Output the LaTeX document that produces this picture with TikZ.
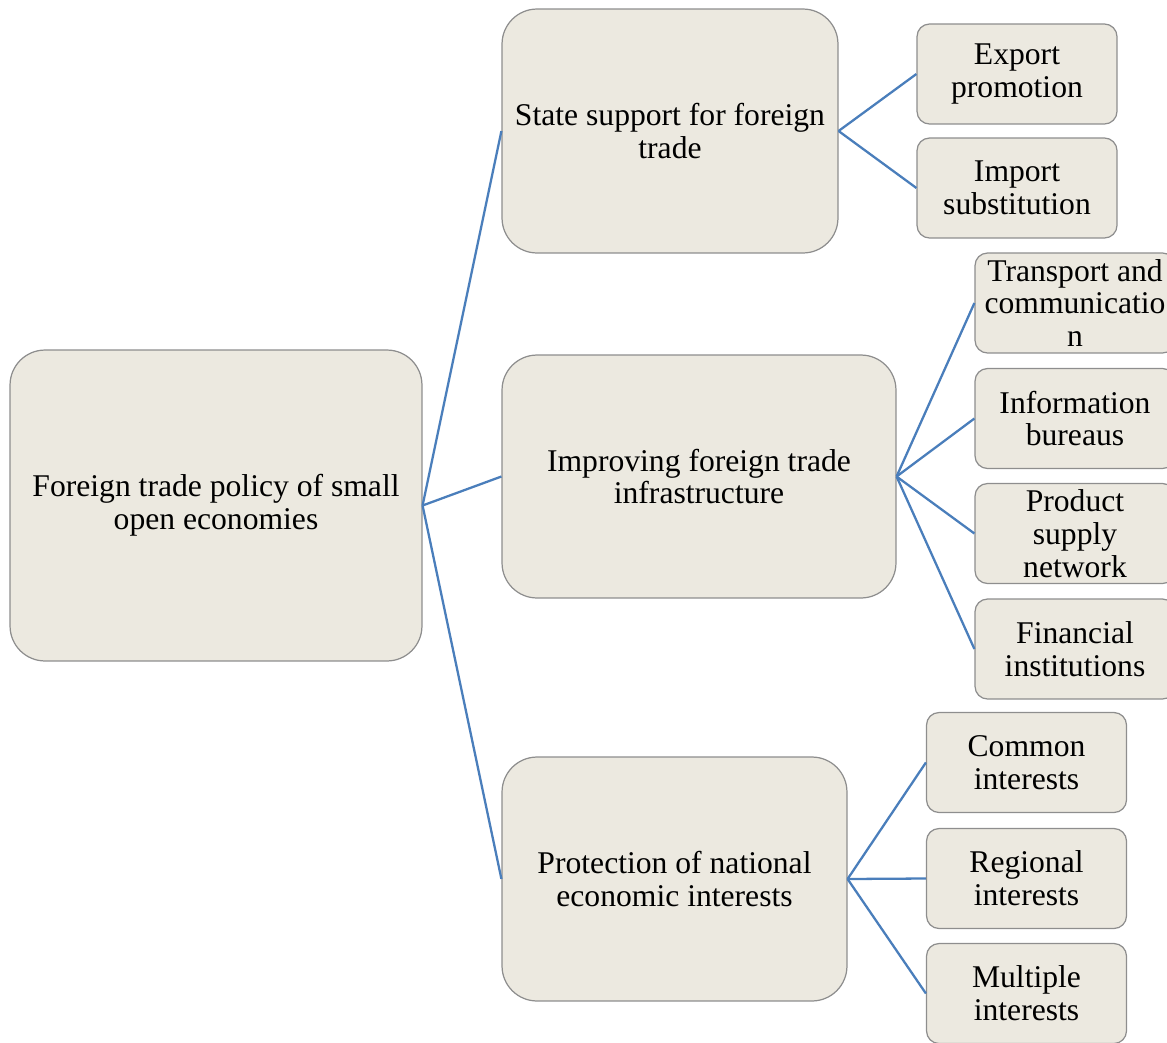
\documentclass[tikz,border=0pt]{standalone}
\usepackage{fontspec}
\setmainfont{Liberation Serif}
\definecolor{boxfill}{HTML}{ECE9E0}
\definecolor{boxline}{HTML}{8E8E8E}
\definecolor{linkblue}{HTML}{4A7EBB}
\tikzset{
  bigbox/.style={draw=boxline, fill=boxfill, line width=0.7pt, rounded corners=0.7cm,
    align=center, inner sep=0pt, font=\fontsize{18}{18.7}\selectfont},
  smallbox/.style={draw=boxline, fill=boxfill, line width=0.7pt, rounded corners=0.25cm,
    align=center, inner sep=0pt, minimum width=4cm, minimum height=2cm,
    font=\fontsize{18}{18.7}\selectfont},
  link/.style={draw=linkblue, line width=1.3pt}
}
\begin{document}
\begin{tikzpicture}[x=0.02cm, y=-0.02cm]
\useasboundingbox (0,0) rectangle (1167,1042);
\clip (0,0) rectangle (1167,1042);

\node[bigbox, minimum width=8.24cm, minimum height=6.22cm] (root) at (216,505.5)
  {Foreign trade policy of small\\open economies};

\node[bigbox, minimum width=6.72cm, minimum height=4.88cm] (state) at (670,131)
  {State support for foreign\\trade};
\node[bigbox, minimum width=7.88cm, minimum height=4.86cm] (infra) at (699,476.5)
  {Improving foreign trade\\infrastructure};
\node[bigbox, minimum width=6.9cm, minimum height=4.88cm] (protect) at (674.5,879)
  {Protection of national\\economic interests};

\node[smallbox] (export) at (1017,74) {Export\\promotion};
\node[smallbox] (import) at (1017,188) {Import\\substitution};

\node[smallbox] (transport) at (1075,303)
  {Transport and\\communicatio\\n};
\node[smallbox] (inform) at (1075,418.5) {Information\\bureaus};
\node[smallbox] (supply) at (1075,533.5) {Product\\supply\\network};
\node[smallbox] (finance) at (1075,649) {Financial\\institutions};

\node[smallbox] (common) at (1026.5,762.5) {Common\\interests};
\node[smallbox] (region) at (1026.5,878.5) {Regional\\interests};
\node[smallbox] (multi) at (1026.5,993.5) {Multiple\\interests};

\foreach \n in {state,infra,protect}
  \draw[link] (root.east) -- (\n.west);
\foreach \n in {export,import}
  \draw[link] (state.east) -- (\n.west);
\foreach \n in {transport,inform,supply,finance}
  \draw[link] (infra.east) -- (\n.west);
\foreach \n in {common,region,multi}
  \draw[link] (protect.east) -- (\n.west);

\end{tikzpicture}
\end{document}
